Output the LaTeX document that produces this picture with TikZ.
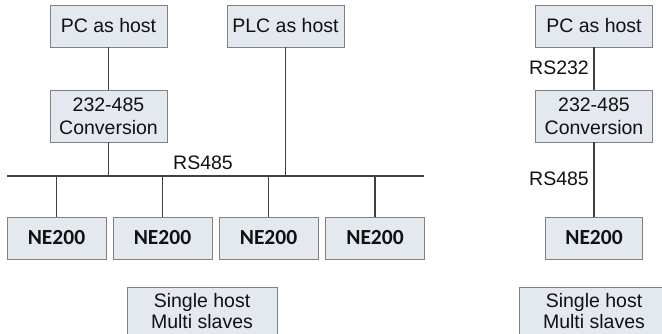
\documentclass[tikz,border=0pt]{standalone}
\usepackage{fontspec}
\setmainfont{Liberation Sans}
\newfontfamily\nefont{Carlito}
\definecolor{boxfill}{HTML}{E4E8EF}
\definecolor{boxline}{HTML}{808080}
\definecolor{wire}{HTML}{404040}
\definecolor{txt}{HTML}{111111}
\begin{document}
\begin{tikzpicture}[x=1pt,y=-1pt,
  box/.style={draw=boxline,fill=boxfill,line width=0.9pt,inner sep=0pt,align=center,
    text=txt,font=\fontsize{19.5}{23}\selectfont},
  hostbox/.style={box,minimum width=117pt,minimum height=42pt},
  convbox/.style={box,minimum width=117pt,minimum height=52pt},
  nebox/.style={box,minimum width=99pt,minimum height=42pt,font=\nefont\bfseries\fontsize{21.5}{24}\selectfont},
  multibox/.style={box,minimum width=150pt,minimum height=52pt,anchor=north},
  lbl/.style={inner sep=0pt,text=txt,font=\fontsize{19.5}{23}\selectfont},
  multitext/.style={lbl,align=center,font=\fontsize{19.5}{21}\selectfont},
  wireline/.style={draw=wire,line width=1.1pt}]
\useasboundingbox (0,0) rectangle (662,334);
% left diagram
\node[hostbox] (pc1) at (108.5,26) {PC as host};
\node[hostbox] (plc) at (285.5,26) {PLC as host};
\node[convbox] (conv1) at (108.5,116) {232-485\\Conversion};
\coordinate (busL) at (7,176);
\coordinate (busR) at (424,176);
\node[lbl] (rs485a) at (203,163) {RS485};
\node[nebox] (ne1) at (56.5,238) {NE200};
\node[nebox] (ne2) at (162.5,238) {NE200};
\node[nebox] (ne3) at (268.5,238) {NE200};
\node[nebox] (ne4) at (375,238) {NE200};
\node[multibox] (multi1) at (202,287) {};
\node[multitext] (multi1t) at (202,311) {Single host\\Multi slaves};
\draw[wireline] (busL) -- (busR);
\draw[wireline] (pc1) -- (conv1);
\draw[wireline] (conv1.south) -- (conv1.south |- busL);
\draw[wireline] (plc.south) -- (plc.south |- busL);
\foreach \n in {ne1,ne2,ne3,ne4}
  \draw[wireline] (\n.north |- busL) -- (\n.north);
% right diagram
\node[hostbox] (pc2) at (594,26) {PC as host};
\node[convbox] (conv2) at (594,116) {232-485\\Conversion};
\node[nebox,minimum width=97pt] (ne5) at (594,238) {NE200};
\node[multibox] (multi2) at (594,287) {};
\node[multitext] (multi2t) at (594,311) {Single host\\Multi slaves};
\draw[wireline] (pc2) -- (conv2);
\draw[wireline] (conv2) -- (ne5);
\node[lbl,anchor=east] (rs232) at (589,68) {RS232};
\node[lbl,anchor=east] (rs485b) at (589,179) {RS485};
\end{tikzpicture}
\end{document}
